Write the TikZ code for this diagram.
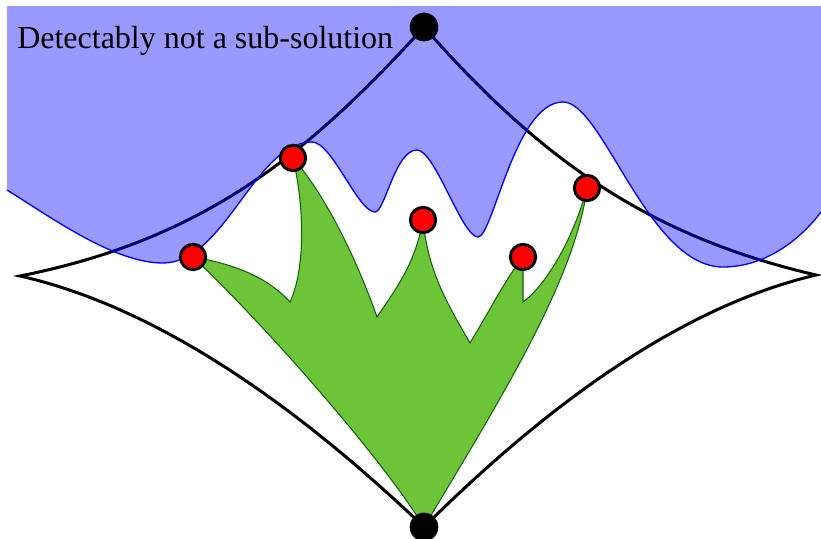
\documentclass[tikz,border=0pt]{standalone}
\usepackage{fontspec}
\setmainfont{Liberation Serif}
\usepackage{xcolor}
\usepackage{tikz}

\definecolor{leafgreen}{RGB}{110,196,56}
\definecolor{leafedge}{RGB}{20,100,10}

% lower rim of the shaded region, continues a path that sits at (7,190)
\newcommand{\wavytail}{%
  .. controls (55,220) and (115,263) .. (163,263)
  .. controls (225,263) and (255,142) .. (312,142)
  .. controls (332,142) and (358,212) .. (375,212)
  .. controls (385,212) and (395,150) .. (417,150)
  .. controls (435,150) and (462,237) .. (478,237)
  .. controls (493,237) and (515,102) .. (563,102)
  .. controls (603,102) and (648,267) .. (723,267)
  .. controls (765,267) and (800,240) .. (821,212)}

\begin{document}
\begin{tikzpicture}[
  x=0.75pt, y=-0.75pt,
  hull/.style={draw=black, line width=2.25pt, line join=miter},
  crown/.style={fill=leafgreen, draw=leafedge, line width=0.8pt},
  veil/.style={fill=blue, fill opacity=0.4},
  rim/.style={draw=blue, line width=1pt},
  redpt/.style={circle, fill=red, draw=black, line width=2.2pt,
                minimum size=19pt, inner sep=0pt},
  blackpt/.style={circle, fill=black, minimum size=21.5pt, inner sep=0pt},
  lbl/.style={font=\fontsize{24}{28}\selectfont, inner sep=0pt, anchor=base west},
]
\useasboundingbox (0,0) rectangle (821,539);

%% ---- corners of the curved diamond ---------------------------------------
\coordinate (top)   at (424,27);
\coordinate (bot)   at (424,527);
\coordinate (lcusp) at (20,276);
\coordinate (rcusp) at (816,275);

%% ---- touching points and the dips between them -------------------------
\coordinate (p1) at (193,257);
\coordinate (p2) at (293,158);
\coordinate (p3) at (423,220);
\coordinate (p4) at (523,257);
\coordinate (p5) at (587,188);
\coordinate (v1) at (290,302);
\coordinate (v2) at (377,317);
\coordinate (v3) at (470,343);
\coordinate (v4) at (523,302);

%% ---- green region ---------------------------------------------------------
\path[crown] (p1) .. controls (240,265) and (270,280) .. (v1)
  .. controls (305,270) and (305,210) .. (p2)
  .. controls (325,195) and (355,255) .. (v2)
  .. controls (395,290) and (415,265) .. (p3)
  .. controls (428,270) and (445,300) .. (v3)
  .. controls (490,310) and (505,280) .. (p4)
  -- (v4)
  .. controls (540,290) and (570,250) .. (p5)
  .. controls (575,280) and (500,400) .. (bot)
  .. controls (380,455) and (260,320) .. (p1) -- cycle;

%% ---- curved diamond -------------------------------------------------------
\path[hull] (top) .. controls (304,159) and (200,240) .. (lcusp)
  .. controls (170,310) and (314,422) .. (bot)
  .. controls (530,422) and (668,310) .. (rcusp)
  .. controls (648,236) and (540,159) .. (top) -- cycle;

%% ---- shaded region --------------------------------------------------------
\fill[veil] (7,6) -- (7,190) \wavytail -- (821,6) -- cycle;
\draw[rim] (7,190) \wavytail;

%% ---- dots -----------------------------------------------------------------
\node[redpt] (d1) at (p1) {};
\node[redpt] (d2) at (p2) {};
\node[redpt] (d3) at (p3) {};
\node[redpt] (d4) at (p4) {};
\node[redpt] (d5) at (p5) {};
\node[blackpt] (dtop) at (top) {};
\node[blackpt] (dbot) at (bot) {};

\node[lbl] (caption) at (17,48) {Detectably not a sub-solution};

\end{tikzpicture}
\end{document}
